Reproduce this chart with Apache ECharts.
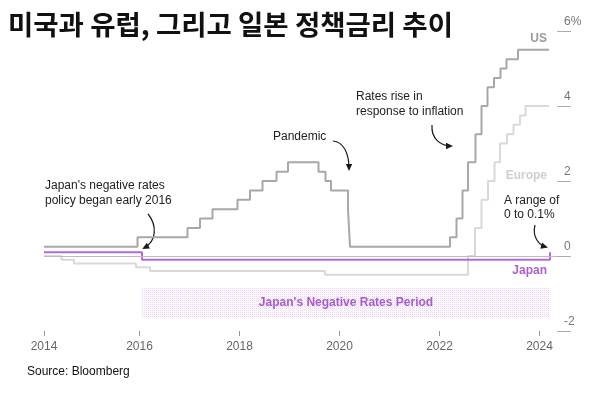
<!DOCTYPE html>
<html>
<head>
<meta charset="utf-8">
<script src="https://cdn.jsdelivr.net/npm/echarts@6/dist/echarts.min.js"></script>
<style>
html,body{margin:0;padding:0;background:#fff;}
#chart{width:606px;height:393px;}
</style>
</head>
<body>
<div id="chart"></div>
<script>
// ---- Data (decimal year of each rate change, new rate in %) ----
const usDates = [2014.09, 2015.96, 2016.96, 2017.21, 2017.46, 2017.96, 2018.21, 2018.46, 2018.74, 2018.97, 2019.58, 2019.72, 2019.83, 2020.17, 2020.21, 2022.21, 2022.34, 2022.46, 2022.57, 2022.72, 2022.84, 2022.96, 2023.09, 2023.22, 2023.34, 2023.57, 2024.19];
const usRates = [0.25, 0.5, 0.75, 1.0, 1.25, 1.5, 1.75, 2.0, 2.25, 2.5, 2.25, 2.0, 1.75, 1.25, 0.25, 0.5, 1.0, 1.75, 2.5, 3.25, 4.0, 4.5, 4.75, 5.0, 5.25, 5.5, 5.5];

const euDates = [2014.09, 2014.44, 2014.69, 2015.93, 2016.21, 2019.71, 2022.57, 2022.71, 2022.84, 2022.97, 2023.10, 2023.21, 2023.35, 2023.48, 2023.61, 2023.72, 2024.19];
const euRates = [0, -0.1, -0.2, -0.3, -0.4, -0.5, 0, 0.75, 1.5, 2.0, 2.5, 3.0, 3.25, 3.5, 3.75, 4.0, 4.0];

const jpDates = [2014.09, 2016.05, 2024.21];
const jpRates = [0.1, -0.1, 0.1];

const negPeriod = [2016.05, 2024.21];
const negBandRange = [-0.85, -1.63];

const xTickValues = [2014.09, 2016, 2018, 2020, 2022, 2024];
const xTickLabels = ['2014', '2016', '2018', '2020', '2022', '2024'];
const yTicks = [-2, 0, 2, 4, 6];

function pairs(d, v) { return d.map((t, i) => [t, v[i]]); }

// dotted pattern for the negative-rates band
const pat = document.createElement('canvas');
pat.width = 2; pat.height = 2;
const pctx = pat.getContext('2d');
pctx.fillStyle = '#ffffff';
pctx.fillRect(0, 0, 2, 2);
pctx.fillStyle = '#ecd2f5';
pctx.fillRect(0, 0, 1, 1);
pctx.fillStyle = '#f8eefb';
pctx.fillRect(1, 1, 1, 1);

const FONT = "'Liberation Sans', Arial, sans-serif";

function arrow(p0, c1, c2, p3) {
  const dx = p3[0] - c2[0], dy = p3[1] - c2[1];
  const L = Math.hypot(dx, dy) || 1;
  const ux = dx / L, uy = dy / L;
  const len = 7, hw = 3.2;
  const tip = [p3[0] + ux * 2, p3[1] + uy * 2];
  const base = [tip[0] - ux * len, tip[1] - uy * len];
  return [
    { type: 'bezierCurve', silent: true,
      shape: { x1: p0[0], y1: p0[1], cpx1: c1[0], cpy1: c1[1], cpx2: c2[0], cpy2: c2[1], x2: p3[0], y2: p3[1] },
      style: { stroke: '#1a1a1a', lineWidth: 1.2, fill: null } },
    { type: 'polygon', silent: true,
      shape: { points: [tip, [base[0] - uy * hw, base[1] + ux * hw], [base[0] + uy * hw, base[1] - ux * hw]] },
      style: { fill: '#1a1a1a' } }
  ];
}

function txt(x, y, text, opts) {
  return Object.assign({ type: 'text', silent: true, x: x, y: y,
    style: Object.assign({ text: text, font: '12px ' + FONT, fill: '#222', lineHeight: 15, verticalAlign: 'top' }, opts || {}) });
}

const chart = echarts.init(document.getElementById('chart'), null, { renderer: 'canvas' });

const option = {
  animation: false,
  backgroundColor: '#fff',
  grid: { left: 44, right: 49, top: 31, bottom: 62 },
  xAxis: {
    type: 'value', min: 2014.09, max: 2024.35,
    axisLine: { show: false, onZero: false },
    splitLine: { show: false },
    axisTick: { show: true, length: 5, lineStyle: { color: '#999', width: 1 }, customValues: xTickValues },
    axisLabel: {
      customValues: xTickValues, margin: 10, color: '#666', fontSize: 12, fontFamily: FONT,
      formatter: function (v) {
        let best = 0;
        xTickValues.forEach((t, i) => { if (Math.abs(t - v) < Math.abs(xTickValues[best] - v)) best = i; });
        return xTickLabels[best];
      }
    }
  },
  yAxis: {
    type: 'value', position: 'right', min: -2, max: 6, interval: 2,
    axisLine: { show: false },
    splitLine: { show: false },
    axisTick: { show: true, inside: false, length: 14, lineStyle: { color: '#aaa', width: 1 } },
    axisLabel: {
      margin: 7, color: '#777', fontSize: 12, fontFamily: FONT, align: 'left', verticalAlign: 'bottom',
      padding: [0, 0, 3, 0],
      formatter: function (v) { return v === 6 ? '6%' : String(v); }
    }
  },
  series: [
    {
      name: 'Europe', type: 'line', step: 'end', showSymbol: false, z: 2,
      data: pairs(euDates, euRates),
      lineStyle: { color: '#d9d9d9', width: 2 },
      markLine: {
        silent: true, symbol: 'none', label: { show: false },
        lineStyle: { color: '#bdbdbd', width: 1.2, type: 'solid' },
        data: [{ yAxis: 0 }]
      },
      markArea: {
        silent: true,
        itemStyle: { color: { image: pat, repeat: 'repeat' } },
        label: { show: true, position: 'inside', color: '#a95bd0', fontWeight: 'bold', fontSize: 12, fontFamily: FONT,
          formatter: "Japan's Negative Rates Period" },
        data: [[{ xAxis: negPeriod[0], yAxis: negBandRange[0] }, { xAxis: negPeriod[1], yAxis: negBandRange[1] }]]
      }
    },
    {
      name: 'US', type: 'line', step: 'end', showSymbol: false, z: 3,
      data: pairs(usDates, usRates),
      lineStyle: { color: '#a8a8a8', width: 2 }
    },
    {
      name: 'Japan', type: 'line', step: 'end', showSymbol: false, z: 4,
      data: pairs(jpDates, jpRates),
      lineStyle: { color: '#b569d9', width: 2 }
    }
  ],
  graphic: [
    txt(8, 25, '미국과 유럽, 그리고 일본 정책금리 추이',
      { font: "bold 27.5px 'Noto Sans CJK KR', sans-serif", fill: '#111', verticalAlign: 'middle' }),
    txt(547, 39, 'US', { font: 'bold 12px ' + FONT, fill: '#9a9a9a', align: 'right', verticalAlign: 'middle' }),
    txt(547, 176, 'Europe', { font: 'bold 12px ' + FONT, fill: '#cfcfcf', align: 'right', verticalAlign: 'middle' }),
    txt(547, 271, 'Japan', { font: 'bold 12px ' + FONT, fill: '#ad5fd3', align: 'right', verticalAlign: 'middle' }),
    txt(45, 178.5, "Japan's negative rates\npolicy began early 2016"),
    txt(273, 129.5, 'Pandemic'),
    txt(356, 89.5, 'Rates rise in\nresponse to inflation'),
    txt(504, 194, 'A range of\n0 to 0.1%', { lineHeight: 14 }),
    txt(27, 372, 'Source: Bloomberg', { fill: '#111', verticalAlign: 'middle' }),
    ...arrow([148, 214], [157, 225], [157, 241], [144, 248]),
    ...arrow([333, 141], [343, 142], [349, 152], [349, 169]),
    ...arrow([432, 125], [431, 138], [440, 146], [451, 146]),
    ...arrow([535, 225], [532, 237], [539, 245], [546, 247])
  ]
};
chart.setOption(option);
</script>
</body>
</html>
